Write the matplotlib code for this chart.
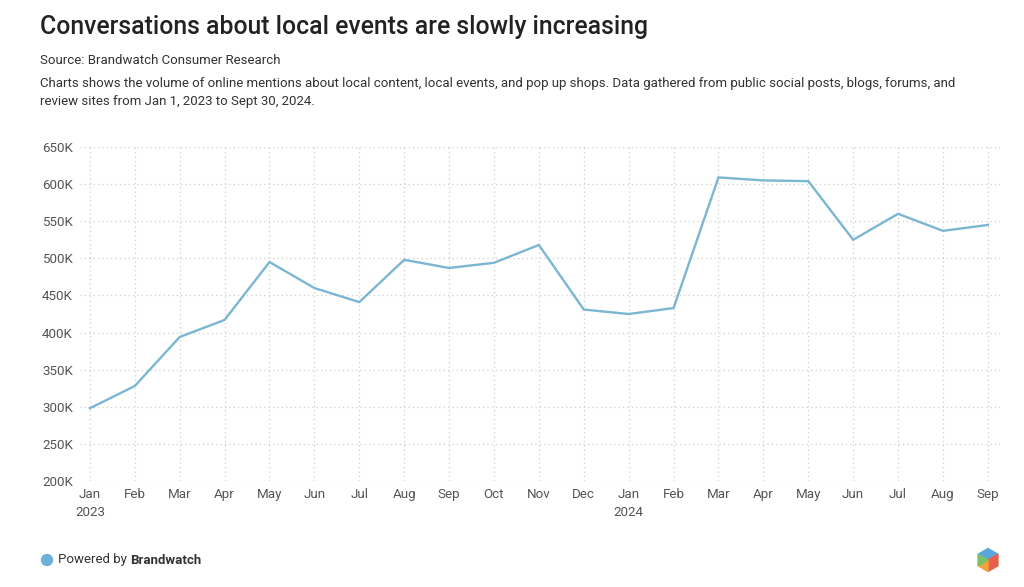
import matplotlib.pyplot as plt
import numpy as np
from matplotlib.patches import Circle, Polygon

plt.rcParams['font.family'] = ['Roboto', 'DejaVu Sans']

# === DATOS ===
months = ["Jan\n2023", "Feb", "Mar", "Apr", "May", "Jun", "Jul", "Aug", "Sep", "Oct",
          "Nov", "Dec", "Jan\n2024", "Feb", "Mar", "Apr", "May", "Jun", "Jul", "Aug", "Sep"]
mentions = [298, 328, 394, 417, 495, 460, 441, 498, 487, 494,
            518, 431, 425, 433, 609, 605, 604, 525, 560, 537, 545]  # miles
y_ticks = [200, 250, 300, 350, 400, 450, 500, 550, 600, 650]

W, H = 1024, 587
fig = plt.figure(figsize=(W / 100, H / 100), dpi=100)
fig.patch.set_facecolor("white")

# === TEXTOS SUPERIORES ===
fig.text(40 / W, 1 - 27 / H, "Conversations about local events are slowly increasing",
         fontsize=17.8, fontweight="medium", color="#222222", va="center", ha="left")
fig.text(40 / W, 1 - 60 / H, "Source: Brandwatch Consumer Research",
         fontsize=9.5, color="#333333", va="center", ha="left")
fig.text(40 / W, 1 - 83 / H,
         "Charts shows the volume of online mentions about local content, local events, and pop up shops. "
         "Data gathered from public social posts, blogs, forums, and",
         fontsize=9.5, color="#333333", va="center", ha="left")
fig.text(40 / W, 1 - 102 / H, "review sites from Jan 1, 2023 to Sept 30, 2024.",
         fontsize=9.5, color="#333333", va="center", ha="left")

# === GRAFICO ===
ax = fig.add_axes([80 / W, 1 - 481 / H, 920 / W, (481 - 147) / H])
x = np.arange(len(mentions))
ax.plot(x, mentions, color="#7bb6d2", linewidth=1.7, solid_joinstyle="miter")
ax.set_xlim(-0.22, len(mentions) - 1 + 0.27)
ax.set_ylim(200, 650)
ax.set_yticks(y_ticks)
ax.set_yticklabels([f"{v}K" for v in y_ticks])
ax.set_xticks(x)
ax.set_xticklabels(months, linespacing=1.55)
ax.grid(True, color="#cfcfcf", linestyle=(0, (1, 2.5)), linewidth=0.9)
ax.set_axisbelow(True)
for s in ax.spines.values():
    s.set_visible(False)
ax.tick_params(axis="both", length=0, labelsize=9.6, labelcolor="#555555")
ax.tick_params(axis="y", pad=5)
ax.tick_params(axis="x", pad=5)

# === PIE DE PAGINA ===
fax = fig.add_axes([0, 0, 1, 1], zorder=-1)
fax.set_xlim(0, W)
fax.set_ylim(H, 0)
fax.axis("off")
fax.add_patch(Circle((47, 560), 5.5, color="#6fb0d8"))
t = fax.text(58, 560, "Powered by ", fontsize=9.5, color="#333333", va="center", ha="left")
fig.canvas.draw()
bb = t.get_window_extent()
fax.text(58 + bb.width, 560, "Brandwatch", fontsize=9.5, color="#333333",
         fontweight="bold", va="center", ha="left")

# logo hexagonal
cx, cy, r = 988, 560, 11.5
ang = np.radians([90, 30, -30, -90, -150, 150])
vx = cx + r * np.cos(ang)
vy = cy - r * np.sin(ang)
v = list(zip(vx, vy))
c = (cx, cy)
fax.add_patch(Polygon([c, v[5], v[0], v[1]], color="#5aa6dc"))
fax.add_patch(Polygon([c, v[1], v[2], v[3]], color="#e8604c"))
fax.add_patch(Polygon([c, v[3], v[4]], color="#f2a23a"))
fax.add_patch(Polygon([c, v[4], v[5]], color="#7cc26a"))

fig.savefig("out.png", dpi=100)
